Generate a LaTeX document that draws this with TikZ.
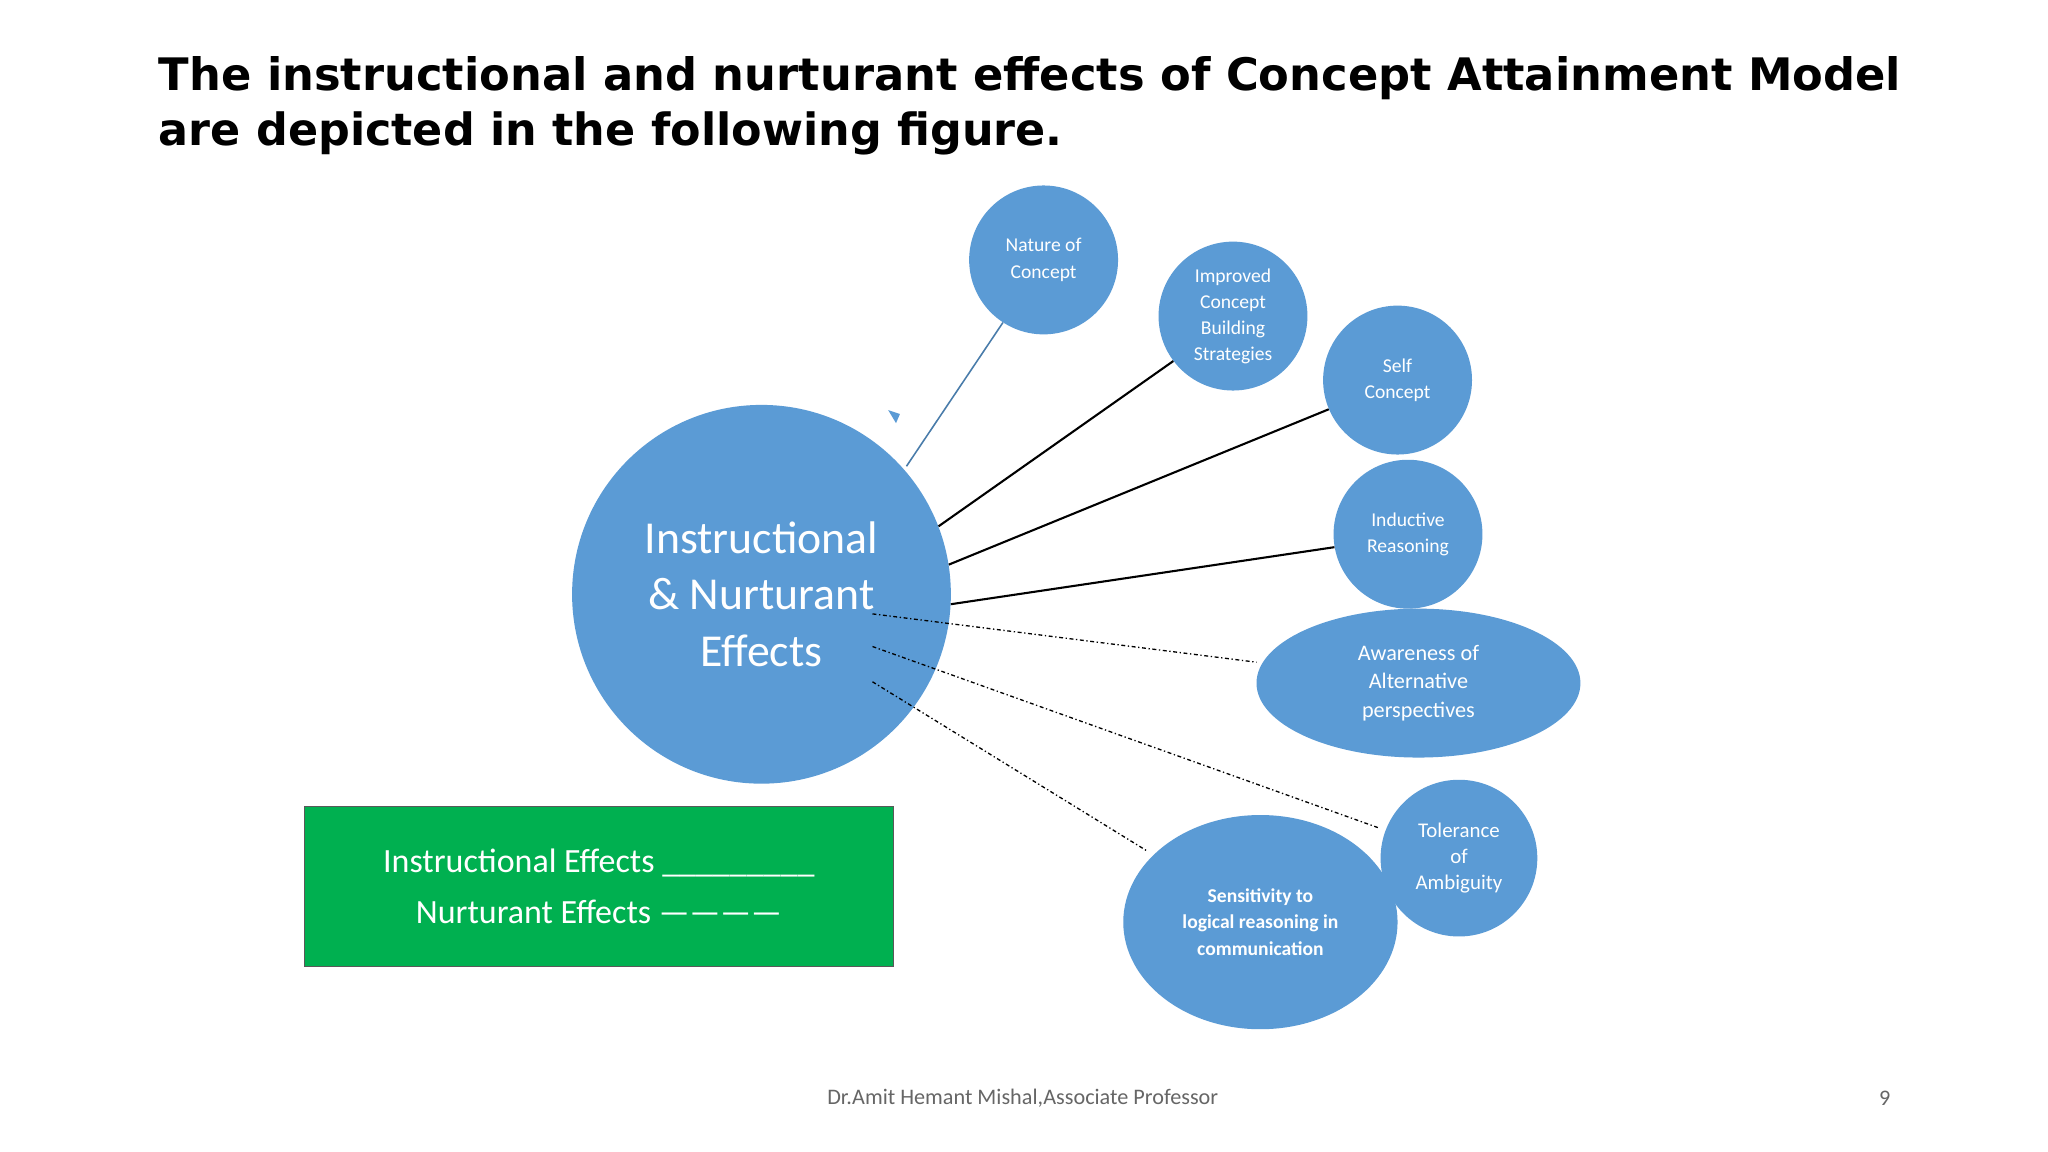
\documentclass[tikz,border=0pt]{standalone}
\usepackage{fontspec}
\usetikzlibrary{shapes.geometric}
\setmainfont{Carlito}
\newfontfamily\titlefont{DejaVu Sans}
\begin{document}
\begin{tikzpicture}[x=1pt,y=-1pt,
  bub/.style={circle,fill=bubblue,text=white,align=center,inner sep=0pt,font=\fontsize{15}{20}\selectfont},
  ell/.style={ellipse,fill=bubblue,text=white,align=center,inner sep=0pt,font=\fontsize{15}{20}\selectfont},
  solidline/.style={black,line width=1.6pt},
  dd/.style={black,line width=1pt,dash dot}]
\definecolor{bubblue}{HTML}{5B9BD5}
\definecolor{grn}{HTML}{00B050}
\useasboundingbox[fill=white] (0,0) rectangle (1568,882);
\node[anchor=west,font=\titlefont\bfseries\fontsize{36}{42}\selectfont] (t1) at (118,60) {\resizebox{1334pt}{!}{The instructional and nurturant effects of Concept Attainment Model}};
\node[anchor=west,font=\titlefont\bfseries\fontsize{36}{42}\selectfont] (t2) at (118,102) {\resizebox{692pt}{!}{are depicted in the following figure.}};
\node[bub,minimum size=290pt,font=\fontsize{35}{43}\selectfont] (big) at (583,455) {Instructional\\\& Nurturant\\Effects};
\node[bub,minimum size=114pt] (nat) at (799,199) {Nature of\\Concept};
\node[bub,minimum size=114pt] (imp) at (944,242) {Improved\\Concept\\Building\\Strategies};
\node[bub,minimum size=114pt] (self) at (1070,291) {Self\\Concept};
\node[bub,minimum size=114pt] (ind) at (1078,409) {Inductive\\Reasoning};
\node[ell,minimum width=248pt,minimum height=114pt,font=\fontsize{17}{22}\selectfont] (aw) at (1086,523) {Awareness of\\Alternative\\perspectives};
\node[bub,minimum size=120pt,font=\fontsize{16}{20}\selectfont] (tol) at (1117,657) {Tolerance\\of\\Ambiguity};
\node[ell,minimum width=210pt,minimum height=164pt,font=\bfseries\fontsize{15}{20}\selectfont] (sen) at (965,706) {Sensitivity to\\logical reasoning in\\communication};
\node[draw=gray!70!black,fill=grn,minimum width=451pt,minimum height=123pt,text=white,align=center,font=\fontsize{26}{39}\selectfont] (leg) at (458.5,678.5) {Instructional Effects \_\_\_\_\_\_\_\_\_\\Nurturant Effects ------------};
\node[text=gray!80!black,font=\fontsize{17}{20}\selectfont] (foot) at (783,841) {Dr.Amit Hemant Mishal,Associate Professor};
\node[text=gray!80!black,font=\fontsize{17}{20}\selectfont] (pg) at (1443,841) {9};
\coordinate (n1) at (694,357);
\coordinate (d1) at (668,470);
\coordinate (d2) at (668,495);
\coordinate (d3) at (668,522);
\coordinate (a1) at (962,507);
\coordinate (a2) at (1056,634);
\coordinate (a3) at (879,652);
\coordinate (tri) at (685,318);
\fill[bubblue] (tri) ++(-5,-4) -- ++(9,3) -- ++(-3,7) -- cycle;
\draw[bubblue!80!black,line width=1.2pt] (nat.237) -- (n1);
\draw[solidline] (big.21) -- (imp.217);
\draw[solidline] (big.9) -- (self.203);
\draw[solidline] (big.-3) -- (ind.190);
\draw[dd] (d1) -- (a1);
\draw[dd] (d2) -- (a2);
\draw[dd] (d3) -- (a3);
\end{tikzpicture}
\end{document}
